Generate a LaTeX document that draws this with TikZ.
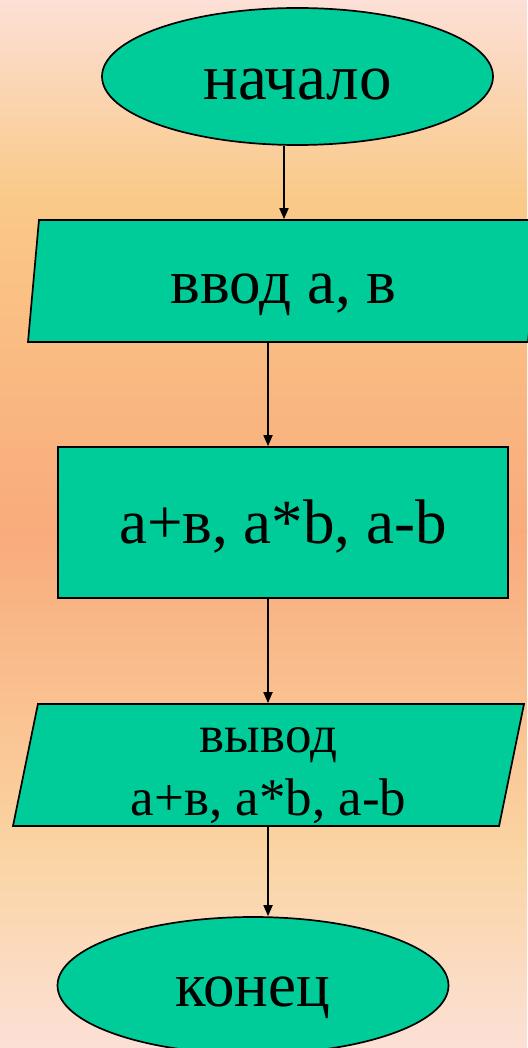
\documentclass[tikz,border=0pt]{standalone}
\usepackage{fontspec}
\setmainfont{Liberation Serif}
\usetikzlibrary{arrows.meta,shapes.geometric}
\definecolor{blockgreen}{HTML}{00CC99}
\definecolor{bgtop}{HTML}{FCDFD6}
\definecolor{bgyellow}{HTML}{FAC987}
\definecolor{bgsalmon}{HTML}{F9AB7C}
\definecolor{bglight}{HTML}{FAD4A2}
\definecolor{bgbottom}{HTML}{FCE0D6}
\tikzset{terminal/.style={ellipse,draw=black,fill=blockgreen,line width=1.7pt,
 minimum width=391pt,minimum height=137pt,inner sep=0pt,text=black,text depth=0pt},
 io/.style={trapezium,trapezium left angle=76,trapezium right angle=104,
 trapezium stretches body=true,
 draw=black,fill=blockgreen,line width=1.7pt,minimum width=511pt,
 minimum height=122pt,inner sep=0pt,text=black,text depth=0pt},
 process/.style={rectangle,draw=black,fill=blockgreen,line width=1.7pt,
 minimum width=450pt,minimum height=151pt,inner sep=0pt,text=black,text depth=0pt},
 flow/.style={draw=black,line width=1.8pt,-{Triangle[length=11pt,width=9pt]}}}

\begin{document}
\begin{tikzpicture}[x=1pt,y=-1pt]
 \useasboundingbox (0,0) rectangle (527,1048);
 \fill[top color=bgtop,bottom color=bgyellow] (0,0) rectangle (527,201);
 \fill[top color=bgyellow,bottom color=bgsalmon] (0,200) rectangle (527,531);
 \fill[top color=bgsalmon,bottom color=bglight] (0,530) rectangle (527,851);
 \fill[top color=bglight,bottom color=bgbottom] (0,850) rectangle (527,1048);

 \node[terminal,text height=47pt,font=\fontsize{65}{72}\selectfont]
  (start) at (297.5,76.5) {начало};
 \node[io,text height=44pt,font=\fontsize{63}{70}\selectfont]
  (in1) at (283.5,281) {ввод а, в};
 \node[process,text height=41pt,font=\fontsize{63}{70}\selectfont]
  (calc) at (283,522.5) {а+в, а*b, а-b};
 \node[io,text height=100pt,font=\fontsize{53}{63}\selectfont]
  (out1) at (268.5,765) {\begin{tabular}[b]{@{}c@{}}вывод\\а+в, а*b, а-b\end{tabular}};
 \node[terminal,text height=42pt,font=\fontsize{63}{70}\selectfont]
  (stop) at (253,985.5) {конец};

 \draw[flow] ([xshift=-13.5pt]start.south) -- ([xshift=-13.5pt]start.south |- in1.north);
 \draw[flow] ([xshift=-15.5pt]in1.south) -- ([xshift=-15.5pt]in1.south |- calc.north);
 \draw[flow] ([xshift=-15pt]calc.south) -- ([xshift=-15pt]calc.south |- out1.north);
 \draw[flow] ([xshift=-0.5pt]out1.south) -- ([xshift=-0.5pt]out1.south |- stop.north);
\end{tikzpicture}
\end{document}
